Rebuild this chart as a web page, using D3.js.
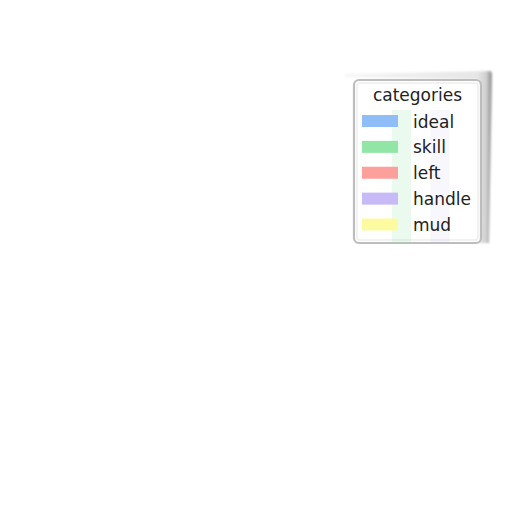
<!DOCTYPE html>
<html>
<head>
<meta charset="utf-8">
<style>
  body { margin: 0; background: #fff; }
  text { font-family: "DejaVu Sans", sans-serif; fill: #222; }
</style>
</head>
<body>
<svg width="512" height="512"></svg>
<script src="https://cdn.jsdelivr.net/npm/d3@7"></script>
<script>

// legend categories and their colours
var categories = ["ideal", "skill", "left", "handle", "mud"];
var colors = ["#8fbdf7", "#91e6a6", "#fd9f9a", "#c8baf6", "#fdfb9f"];
// faint bars that show through the legend (alpha of each category's bar)
var barAlpha = [0, 0.18, 0, 0.12, 0];
var legendTitle = "categories";

var svg = d3.select("svg");

var defs = svg.append("defs");
defs.append("filter").attr("id", "soft")
  .append("feGaussianBlur").attr("stdDeviation", 0.8);
var grad = defs.append("linearGradient").attr("id", "shade")
  .attr("x1", "0").attr("y1", "0").attr("x2", "1").attr("y2", "0");
grad.append("stop").attr("offset", "0").attr("stop-color", "#f6f6f6");
grad.append("stop").attr("offset", "0.9").attr("stop-color", "#e6e6e6");
grad.append("stop").attr("offset", "0.96").attr("stop-color", "#d0d0d0");
grad.append("stop").attr("offset", "1").attr("stop-color", "#8a8a8a");

// legend geometry
var lx = 354, ly = 80, lw = 127, lh = 163;

// curled shadow behind the legend
svg.append("path")
  .attr("d", "M345,74 L491,71 L492,74 L489,243 L478,243 L478,80 L345,77 Z")
  .attr("fill", "url(#shade)")
  .attr("filter", "url(#soft)");

svg.append("rect")
  .attr("x", lx).attr("y", ly).attr("width", lw).attr("height", lh)
  .attr("rx", 5)
  .attr("fill", "#fff")
  .attr("stroke", "#bdbdbd")
  .attr("stroke-width", 2.2);

svg.append("rect")
  .attr("x", lx + 3).attr("y", ly + 3).attr("width", lw - 6).attr("height", lh - 6)
  .attr("rx", 3)
  .attr("fill", "none")
  .attr("stroke", "#eeeeee")
  .attr("stroke-width", 1.5);

// faint bars seen through the legend
var xb = d3.scaleBand().domain(categories).range([372.6, 468.9]).padding(0);
var y = d3.scaleLinear().domain([0, 1]).range([243, 110]);

svg.append("g").selectAll("rect")
  .data(categories)
  .join("rect")
  .attr("x", function (d) { return xb(d); })
  .attr("width", xb.bandwidth())
  .attr("y", y(1))
  .attr("height", y(0) - y(1))
  .attr("fill", function (d, i) { return colors[i]; })
  .attr("opacity", function (d, i) { return barAlpha[i]; });

svg.append("text")
  .attr("x", lx + lw / 2)
  .attr("y", 101)
  .attr("text-anchor", "middle")
  .style("font-size", "17px")
  .text(legendTitle);

var row = d3.scalePoint().domain(categories).range([121, 224.5]);

var item = svg.append("g").selectAll("g")
  .data(categories)
  .join("g")
  .attr("transform", function (d) { return "translate(0," + row(d) + ")"; });

item.append("rect")
  .attr("x", 362).attr("y", -6)
  .attr("width", 36).attr("height", 12)
  .attr("fill", function (d, i) { return colors[i]; });

item.append("text")
  .attr("x", 413)
  .attr("y", 6.5)
  .style("font-size", "17px")
  .text(function (d) { return d; });

</script>
</body>
</html>
